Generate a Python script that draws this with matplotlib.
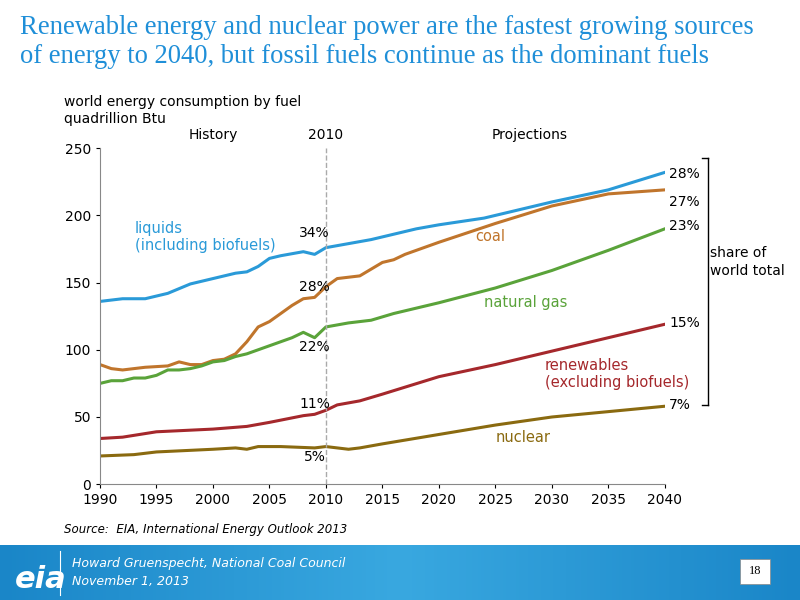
import matplotlib
matplotlib.use('Agg')
import matplotlib.pyplot as plt
from matplotlib.patches import Rectangle
import numpy as np

# data (quadrillion Btu)
liq_years = [1990, 1992, 1994, 1996, 1998, 2000, 2002, 2003, 2004, 2005, 2006, 2008, 2009, 2010,
             2012, 2014, 2016, 2018, 2020, 2024, 2030, 2035, 2040]
liquids = [136, 138, 138, 142, 149, 153, 157, 158, 162, 168, 170, 173, 171, 176,
           179, 182, 186, 190, 193, 198, 210, 219, 232]

coal_years = [1990, 1991, 1992, 1994, 1996, 1997, 1998, 1999, 2000, 2001, 2002, 2003, 2004, 2005,
              2006, 2007, 2008, 2009, 2010, 2011, 2012, 2013, 2014, 2015, 2016, 2017, 2020, 2025,
              2030, 2035, 2040]
coal = [89, 86, 85, 87, 88, 91, 89, 89, 92, 93, 97, 106, 117, 121,
        127, 133, 138, 139, 147, 153, 154, 155, 160, 165, 167, 171, 180, 194,
        207, 216, 219]

gas_years = [1990, 1991, 1992, 1993, 1994, 1995, 1996, 1997, 1998, 1999, 2000, 2001, 2002, 2003,
             2004, 2005, 2006, 2007, 2008, 2009, 2010, 2012, 2014, 2016, 2020, 2025, 2030, 2035, 2040]
gas = [75, 77, 77, 79, 79, 81, 85, 85, 86, 88, 91, 92, 95, 97,
       100, 103, 106, 109, 113, 109, 117, 120, 122, 127, 135, 146, 159, 174, 190]

ren_years = [1990, 1992, 1995, 2000, 2003, 2005, 2008, 2009, 2010, 2011, 2013, 2015, 2020, 2025,
             2030, 2035, 2040]
renewables = [34, 35, 39, 41, 43, 46, 51, 52, 55, 59, 62, 67, 80, 89, 99, 109, 119]

nuc_years = [1990, 1993, 1995, 2000, 2002, 2003, 2004, 2006, 2009, 2010, 2012, 2013, 2015, 2020,
             2025, 2030, 2035, 2040]
nuclear = [21, 22, 24, 26, 27, 26, 28, 28, 27, 28, 26, 27, 30, 37, 44, 50, 54, 58]

blue = '#1f8fd8'
c_liq, c_coal, c_gas, c_ren, c_nuc = '#2a9ad8', '#c0752c', '#5aa33a', '#a5282c', '#8a6a10'

fig = plt.figure(figsize=(8, 6), dpi=100)
ax = fig.add_axes([0.125, 0.193, 0.706, 0.56])

ax.plot(liq_years, liquids, color=c_liq, lw=2.2)
ax.plot(coal_years, coal, color=c_coal, lw=2.2)
ax.plot(gas_years, gas, color=c_gas, lw=2.2)
ax.plot(ren_years, renewables, color=c_ren, lw=2.2)
ax.plot(nuc_years, nuclear, color=c_nuc, lw=2.2)
ax.axvline(2010, color='#aaaaaa', ls='--', lw=1)

ax.set_xlim(1990, 2040)
ax.set_ylim(0, 250)
ax.set_xticks(range(1990, 2041, 5))
ax.set_yticks(range(0, 251, 50))
ax.tick_params(labelsize=10, direction='out', length=3)
for s in ['top', 'right']:
    ax.spines[s].set_visible(False)
ax.spines['left'].set_color('#888888')
ax.spines['bottom'].set_color('#888888')

ax.text(2000, 257, 'History', ha='center', fontsize=10)
ax.text(2010, 257, '2010', ha='center', fontsize=10)
ax.text(2028, 257, 'Projections', ha='center', fontsize=10)

ax.text(1993.1, 184, 'liquids\n(including biofuels)', color=c_liq, fontsize=10.5, va='center', linespacing=1.2)
ax.text(2023.2, 184, 'coal', color=c_coal, fontsize=10.5, va='center')
ax.text(2024, 135, 'natural gas', color=c_gas, fontsize=10.5, va='center')
ax.text(2029.4, 82, 'renewables\n(excluding biofuels)', color=c_ren, fontsize=10.5, va='center', linespacing=1.2)
ax.text(2025, 35, 'nuclear', color=c_nuc, fontsize=10.5, va='center')

for y, t in [(187, '34%'), (147, '28%'), (102, '22%'), (60, '11%'), (20, '5%')]:
    ax.text(2009, y, t, ha='center', va='center', fontsize=10)
for y, t in [(231, '28%'), (210, '27%'), (192, '23%'), (120, '15%'), (59, '7%')]:
    ax.text(2040.4, y, t, ha='left', va='center', fontsize=10, clip_on=False)

# share bracket
fig.add_artist(plt.Line2D([0.885, 0.885], [1 - 158 / 600, 1 - 405 / 600], color='k', lw=1))
fig.add_artist(plt.Line2D([0.878, 0.885], [1 - 158 / 600] * 2, color='k', lw=1))
fig.add_artist(plt.Line2D([0.878, 0.885], [1 - 405 / 600] * 2, color='k', lw=1))
fig.text(0.888, 1 - 262 / 600, 'share of\nworld total', fontsize=10, va='center', linespacing=1.3)

fig.text(0.08, 1 - 126 / 600, 'world energy consumption by fuel\nquadrillion Btu', fontsize=10,
         va='bottom', linespacing=1.3)
fig.text(0.025, 0.975, 'Renewable energy and nuclear power are the fastest growing sources\n'
         'of energy to 2040, but fossil fuels continue as the dominant fuels',
         family='Liberation Serif', fontsize=19.2, color=blue, va='top', linespacing=1.2)
fig.text(0.08, 1 - 530 / 600, 'Source:  EIA, International Energy Outlook 2013', fontsize=8.5,
         style='italic', va='center')

# footer band
grad = np.linspace(0, 1, 256).reshape(1, -1)
fax = fig.add_axes([0, 0, 1, 55 / 600])
fax.imshow(grad, aspect='auto', cmap=matplotlib.colors.LinearSegmentedColormap.from_list(
    'f', ['#1a86c8', '#39a8e0', '#1a86c8']), extent=[0, 1, 0, 1])
fax.set_xlim(0, 1)
fax.set_ylim(0, 1)
fax.axis('off')
fax.text(0.018, 0.38, 'eia', fontsize=22, color='white', weight='bold', style='italic', va='center')
fax.plot([0.075, 0.075], [0.1, 0.9], color='white', lw=0.8)
fax.text(0.09, 0.55, 'Howard Gruenspecht, National Coal Council', fontsize=9, color='white',
         style='italic', va='bottom')
fax.text(0.09, 0.45, 'November 1, 2013', fontsize=9, color='white', style='italic', va='top')
fax.add_patch(Rectangle((0.925, 0.3), 0.038, 0.45, facecolor='white', edgecolor='#888888', lw=0.5))
fax.text(0.944, 0.52, '18', fontsize=9, ha='center', va='center', family='Liberation Serif')

fig.savefig('out.png', dpi=100)
